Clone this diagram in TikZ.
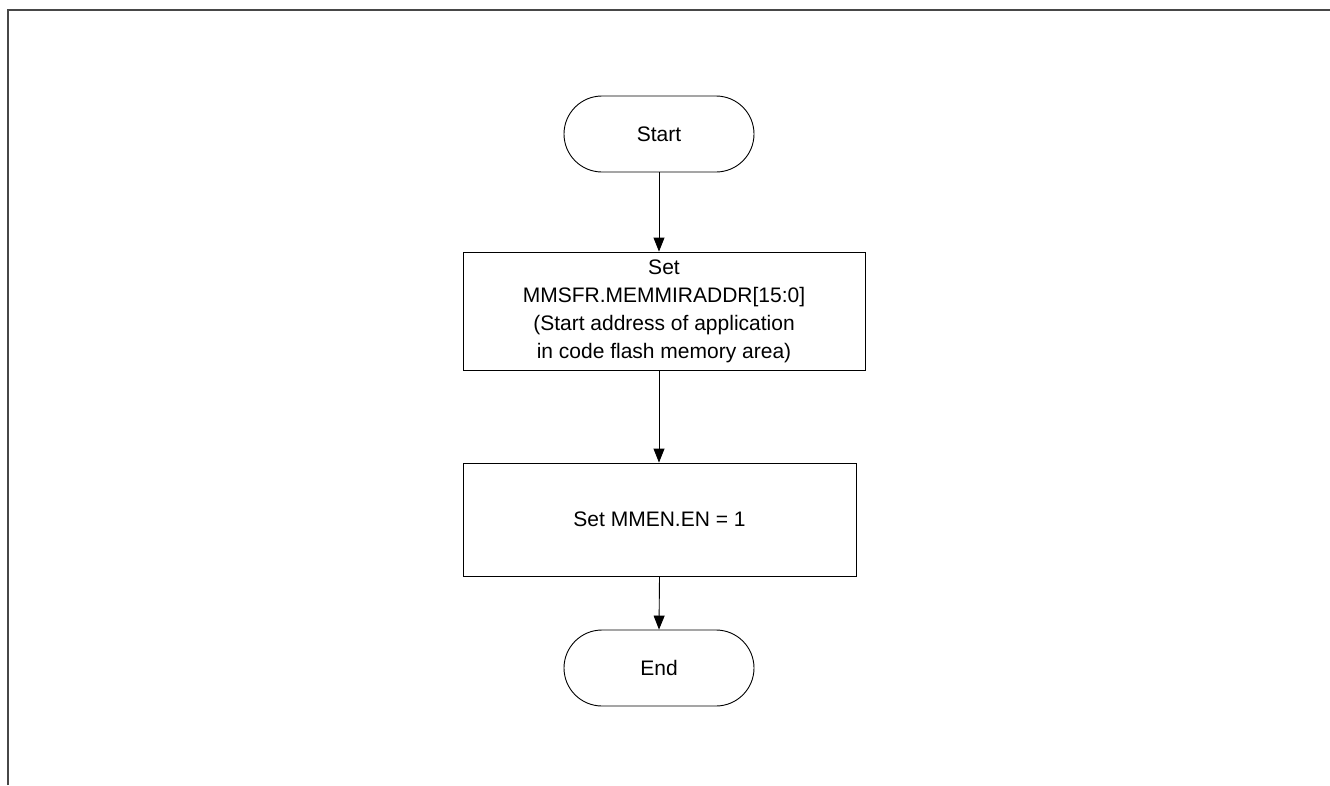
\documentclass[tikz,border=0pt]{standalone}
\usepackage{fontspec}
\setmainfont{Liberation Sans}
\usetikzlibrary{arrows.meta}
\begin{document}
\begin{tikzpicture}[x=1pt,y=-1pt,
  every node/.style={font=\fontsize{21}{28}\selectfont, text=black},
  term/.style={draw=black, line width=0.9pt, rounded corners=38pt, minimum width=190pt, minimum height=76pt, inner sep=0pt},
  proc/.style={draw=black, line width=0.9pt, align=center, inner sep=0pt},
  flow/.style={draw=black, line width=0.9pt, -{Triangle[length=14pt,width=11pt]}},
  frame/.style={draw=black!72, line width=2pt}]
\useasboundingbox (0,0) rectangle (1330,785);
\draw[frame] (8,785) -- (8,10) -- (1330,10);
\node[term] (start) at (659,134) {Start};
\node[proc, minimum width=402pt, minimum height=118pt] (set1) at (664,311) {Set\\MMSFR.MEMMIRADDR[15:0]\\(Start address of application\\in code flash memory area)};
\node[proc, minimum width=393pt, minimum height=113pt] (set2) at (659.5,519.5) {Set MMEN.EN = 1};
\node[term] (end) at (659,668) {End};
\draw[flow] (start.south) -- (start.south |- set1.north);
\draw[flow] (start.south |- set1.south) -- (start.south |- set2.north);
\draw[flow] (set2.south) -- (end.north);
\end{tikzpicture}
\end{document}
